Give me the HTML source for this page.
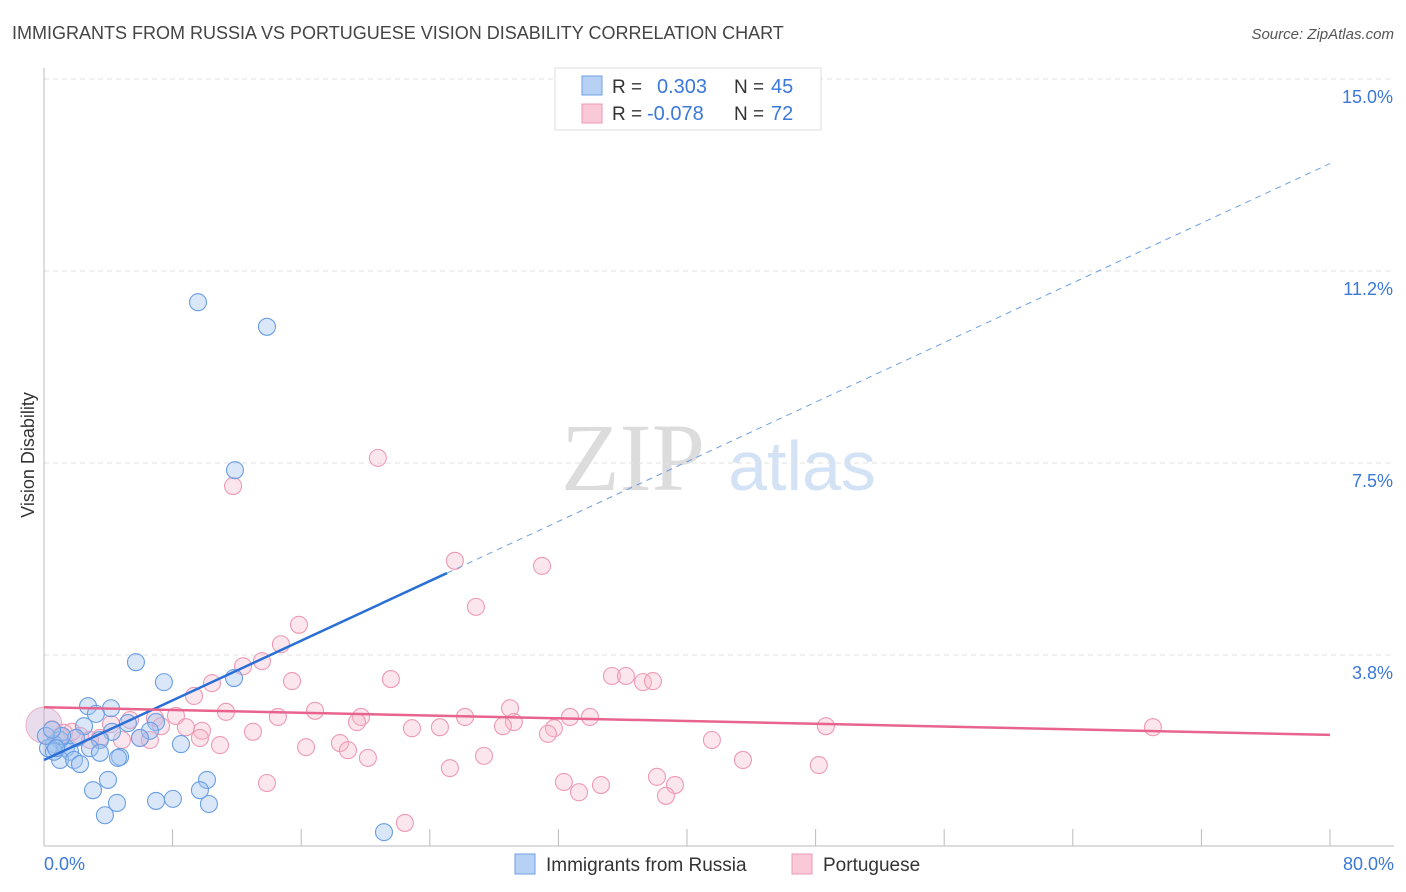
<!DOCTYPE html>
<html><head><meta charset="utf-8"><style>
body{margin:0;background:#fff;font-family:"Liberation Sans",sans-serif}
svg{display:block}
</style></head><body>
<svg id="c" width="1406" height="892" xmlns="http://www.w3.org/2000/svg">
<text x="12" y="39" font-size="18" fill="#444">IMMIGRANTS FROM RUSSIA VS PORTUGUESE VISION DISABILITY CORRELATION CHART</text>
<text x="1394" y="39" font-size="15" fill="#555" font-style="italic" text-anchor="end">Source: ZipAtlas.com</text>
<text transform="translate(34,455) rotate(-90)" font-size="18" fill="#333" text-anchor="middle">Vision Disability</text>
<g><text x="633" y="490" font-size="96" fill="#dcdcdc" font-family="Liberation Serif,serif" text-anchor="middle">ZIP</text><text x="802" y="490" font-size="70" fill="#d3e2f5" text-anchor="middle">atlas</text></g>
<g id="grid"></g><g id="axes"></g><g id="pts"></g><g id="lines"></g>
<g>
<rect x="555" y="68" width="266" height="62" fill="#fff" stroke="#ddd"/>
<rect x="582" y="76" width="20" height="19" fill="#b7d1f5" stroke="#6d9fe3"/>
<rect x="582" y="104" width="20" height="19" fill="#fac9d8" stroke="#ee98b3"/>
<text x="612" y="93" font-size="19" fill="#333">R =</text><text x="657" y="93" font-size="20" fill="#3b78d8">0.303</text>
<text x="734" y="93" font-size="19" fill="#333">N =</text><text x="771" y="93" font-size="20" fill="#3b78d8">45</text>
<text x="612" y="120" font-size="19" fill="#333">R =</text><text x="647" y="120" font-size="20" fill="#3b78d8">-0.078</text>
<text x="734" y="120" font-size="19" fill="#333">N =</text><text x="771" y="120" font-size="20" fill="#3b78d8">72</text>
</g>
<g>
<rect x="515" y="854" width="20" height="20" fill="#b7d1f5" stroke="#6d9fe3"/>
<text x="546" y="871" font-size="19" fill="#333">Immigrants from Russia</text>
<rect x="792" y="854" width="20" height="20" fill="#fac9d8" stroke="#ee98b3"/>
<text x="823" y="871" font-size="19" fill="#333">Portuguese</text>
</g>
</svg>
<script>
const yTicks=[3.75,7.5,11.25,15];
const yTickLabels=["3.8%","7.5%","11.2%","15.0%"];
const xTicks=[0,8,16,24,32,40,48,56,64,72,80];
const blueX=[9.58,13.87,11.88,5.72,7.46,11.82,2.74,4.17,3.23,2.49,6.97,5.22,6.59,4.23,5.97,1.00,1.99,0.62,1.37,0.25,3.48,8.52,1.62,2.86,3.48,1.00,1.87,2.24,4.73,4.60,3.98,10.14,3.05,9.70,4.54,6.97,8.02,10.26,3.79,21.15,0.62,0.12,1.12,0.50,0.75];
const blueY=[10.64,10.16,7.36,3.61,3.22,3.30,2.75,2.71,2.60,2.36,2.44,2.42,2.27,2.25,2.13,2.09,2.13,2.01,1.93,1.93,2.09,2.01,1.86,1.93,1.84,1.70,1.70,1.62,1.76,1.74,1.31,1.31,1.11,1.11,0.86,0.90,0.94,0.84,0.62,0.29,1.86,2.17,2.17,2.29,1.93];
const pinkX=[20.77,11.76,25.56,30.98,26.87,15.86,14.74,13.56,12.38,10.45,9.33,15.43,21.58,35.33,36.20,37.26,37.88,28.99,16.86,11.32,8.21,6.90,5.35,4.17,7.28,8.83,9.83,14.55,19.72,26.19,32.72,33.96,19.47,22.89,24.63,29.23,28.55,31.72,31.35,48.64,68.98,13.00,5.97,4.85,3.48,2.24,1.24,1.00,6.59,10.95,16.30,18.41,18.91,20.15,27.37,41.55,43.48,48.20,25.25,13.87,32.34,33.28,34.65,38.13,39.25,38.69,22.45,1.74,2.86,9.70,0.5];
const pinkY=[7.60,7.05,5.59,5.49,4.69,4.34,3.96,3.63,3.53,3.20,2.95,3.24,3.28,3.34,3.34,3.22,3.24,2.71,2.66,2.64,2.56,2.52,2.48,2.40,2.36,2.34,2.27,2.54,2.54,2.54,2.54,2.54,2.44,2.32,2.34,2.44,2.36,2.32,2.21,2.36,2.34,2.25,2.13,2.09,2.13,2.17,2.23,2.17,2.09,1.99,1.95,2.03,1.89,1.74,1.78,2.09,1.70,1.60,1.54,1.25,1.27,1.07,1.21,1.37,1.21,1.00,0.47,2.25,2.09,2.13,2.30];
const bigPink=[0,2.38];
const blueTrend=[1.70,0.1456], blueSolidEnd=25.07, pinkTrend=[2.73,-0.00675];
const X=v=>44+v/80*1286, Y=v=>847-v*51.2;
const NS="http://www.w3.org/2000/svg";
function mk(t,a,p){const e=document.createElementNS(NS,t);for(const k in a)e.setAttribute(k,a[k]);p.appendChild(e);return e;}
const grid=document.getElementById('grid'),axes=document.getElementById('axes'),pts=document.getElementById('pts'),lines=document.getElementById('lines');
yTicks.forEach((t,i)=>{
 const l=mk('line',{x1:44,x2:1394,y1:Y(t),y2:Y(t),stroke:'#e2e2e2','stroke-dasharray':'5,4'},grid);
 
 
 const tx=mk('text',{x:1393,y:Y(t)+24,'font-size':18,fill:'#3b78d8','text-anchor':'end'},axes);
 tx.textContent=yTickLabels[i];
 
 
});
mk('line',{x1:44,x2:44,y1:68,y2:846,stroke:'#bbb'},axes);
mk('line',{x1:44,x2:1394,y1:846,y2:846,stroke:'#bbb'},axes);
xTicks.forEach(t=>{const l=mk('line',{x1:X(t),x2:X(t),y1:829,y2:846,stroke:'#bbb'},axes);
 
 });
const x0=mk('text',{x:44,y:870,'font-size':18,fill:'#3b78d8'},axes);x0.textContent='0.0%';


const x1=mk('text',{x:1394,y:870,'font-size':18,fill:'#3b78d8','text-anchor':'end'},axes);x1.textContent='80.0%';


const bp=mk('circle',{cx:X(bigPink[0]),cy:Y(bigPink[1]),r:18,fill:'rgba(200,170,210,0.4)',stroke:'#eab0c4'},pts);


pinkX.forEach((v,i)=>{const c=mk('circle',{cx:X(v),cy:Y(pinkY[i]),r:8.5,fill:'rgba(247,182,202,0.35)',stroke:'#ee9ab4','stroke-width':1.1},pts);
 
 });
blueX.forEach((v,i)=>{const c=mk('circle',{cx:X(v),cy:Y(blueY[i]),r:8.5,fill:'rgba(160,196,240,0.4)',stroke:'#6a9ee4','stroke-width':1.1},pts);
 
 });
const bt=v=>blueTrend[0]+blueTrend[1]*v, pt=v=>pinkTrend[0]+pinkTrend[1]*v;
const l1=mk('line',{x1:X(0),y1:Y(bt(0)),x2:X(blueSolidEnd),y2:Y(bt(blueSolidEnd)),stroke:'#2a6fd6','stroke-width':2.5},lines);


const l2=mk('line',{x1:X(blueSolidEnd),y1:Y(bt(blueSolidEnd)),x2:X(80),y2:Y(bt(80)),stroke:'#6d9fe3','stroke-width':1,'stroke-dasharray':'6,5'},lines);


const l3=mk('line',{x1:X(0),y1:Y(pt(0)),x2:X(80),y2:Y(pt(80)),stroke:'#e8648f','stroke-width':2.5},lines);


</script>
</body></html>
